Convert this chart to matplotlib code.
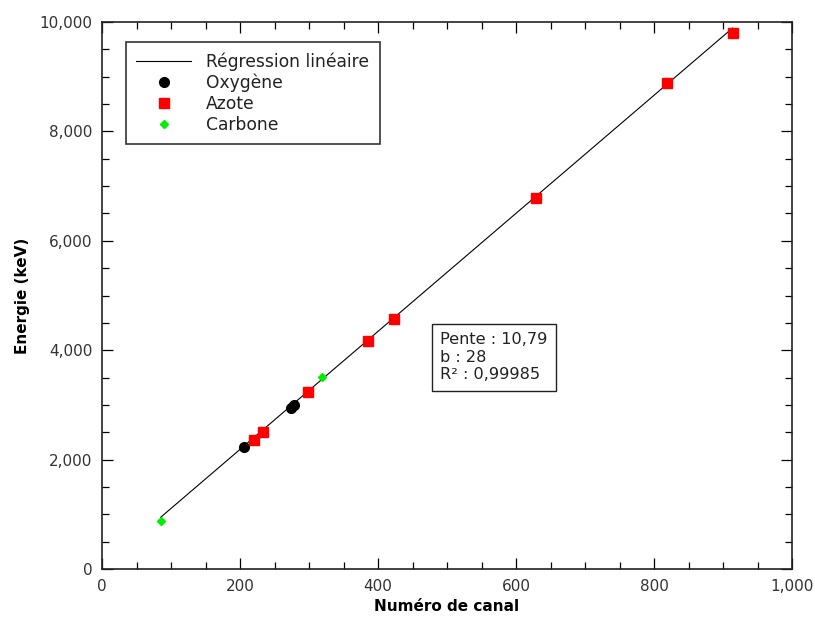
import matplotlib
matplotlib.use("Agg")
import matplotlib.pyplot as plt
from matplotlib.ticker import MultipleLocator, FuncFormatter
import numpy as np

# Data
oxy_x = [206, 274, 278]
oxy_y = [2230, 2943, 2998]
azote_x = [220, 233, 299, 386, 423, 629, 819, 914]
azote_y = [2358, 2505, 3236, 4168, 4570, 6782, 8885, 9799]
carb_x = [85, 319]
carb_y = [878, 3510]
slope = 10.79
intercept = 28
r2 = "0,99985"

fig = plt.figure(figsize=(8.15, 6.21), dpi=100)
ax = fig.add_axes([102/815, 1-569/621, 690/815, 547/621])

all_x = oxy_x + azote_x + carb_x
xl = np.array([min(all_x), max(all_x)])
ax.plot(xl, slope*xl + intercept, color='black', lw=0.8, label='Régression linéaire', zorder=2)
ax.plot(oxy_x, oxy_y, 'o', color='black', ms=7, ls='none', label='Oxygène', zorder=3)
ax.plot(azote_x, azote_y, 's', color='#ff0000', ms=7, ls='none', label='Azote', zorder=3)
ax.plot(carb_x, carb_y, 'D', color='#00ee00', ms=4, ls='none', label='Carbone', zorder=3)

ax.set_xlim(0, 1000)
ax.set_ylim(0, 10000)
ax.xaxis.set_major_locator(MultipleLocator(200))
ax.xaxis.set_minor_locator(MultipleLocator(50))
ax.yaxis.set_major_locator(MultipleLocator(2000))
ax.yaxis.set_minor_locator(MultipleLocator(500))
fmt = FuncFormatter(lambda v, p: f"{int(round(v)):,}")
ax.xaxis.set_major_formatter(fmt)
ax.yaxis.set_major_formatter(fmt)
ax.tick_params(which='both', direction='in', top=True, right=True, labelsize=11, labelcolor='#333333', pad=7)
ax.tick_params(which='major', length=8, width=0.9)
ax.tick_params(which='minor', length=5, width=0.9)
for s in ax.spines.values():
    s.set_linewidth(1.2)
    s.set_color('#222222')

ax.set_xlabel('Numéro de canal', fontsize=11, fontweight='bold', labelpad=4)
ax.set_ylabel('Energie (keV)', fontsize=11, fontweight='bold', labelpad=7)

leg = ax.legend(loc='upper left', bbox_to_anchor=(24/690, 1-20/547), fontsize=12.3,
                frameon=True, fancybox=False, edgecolor='#333333', framealpha=1,
                handlelength=3.2, labelspacing=0.17, borderpad=0.6, handletextpad=0.9,
                borderaxespad=0)
leg.get_frame().set_linewidth(1.2)
for t in leg.get_texts():
    t.set_color('#222222')

ax.text(0.490, 0.341, f"Pente : {slope:.2f}".replace('.', ',') + f"\nb : {intercept}\nR² : {r2}",
        transform=ax.transAxes, fontsize=11.6, color='#222222', va='bottom', ha='left',
        linespacing=1.22,
        bbox=dict(boxstyle='square,pad=0.52', fc='white', ec='#222222', lw=1.0))

fig.savefig('out.png', dpi=100)
